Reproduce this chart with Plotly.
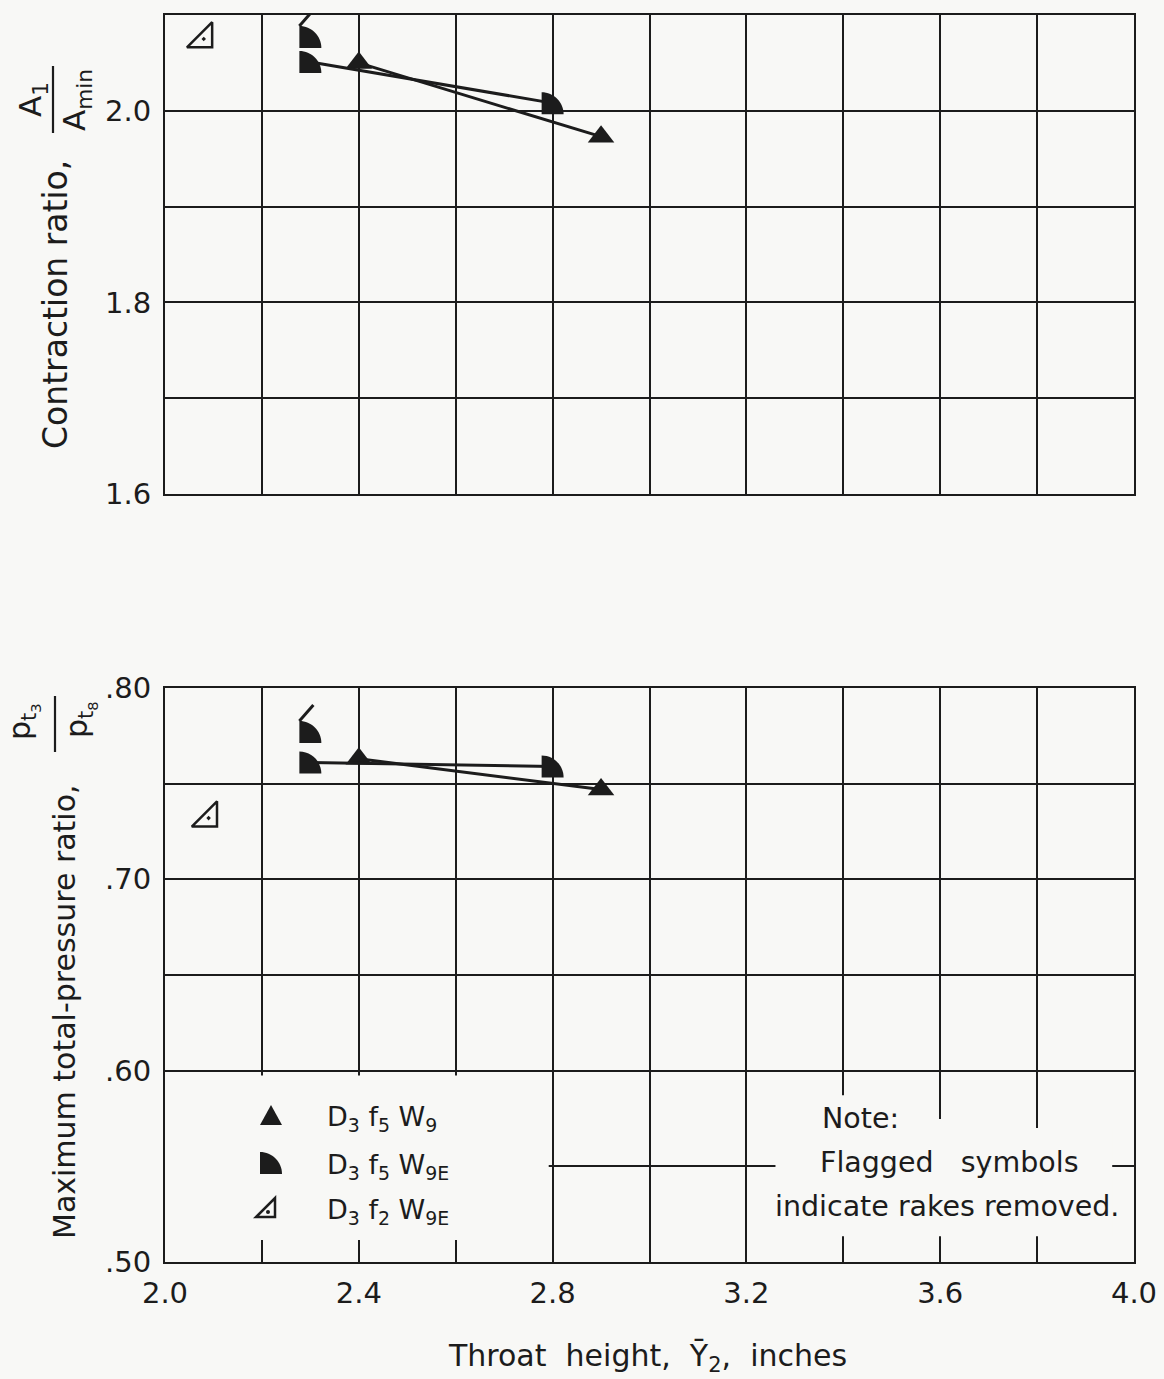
import plotly.graph_objects as go

# ---------------- data ----------------
x_ticks = [2.0, 2.2, 2.4, 2.6, 2.8, 3.0, 3.2, 3.4, 3.6, 3.8, 4.0]
x_ticktext = ["2.0", "", "2.4", "", "2.8", "", "3.2", "", "3.6", "", "4.0"]
top_yticks = [1.6, 1.7, 1.8, 1.9, 2.0, 2.1]
top_yticktext = ["1.6", "", "1.8", "", "2.0", ""]
bot_yticks = [0.50, 0.55, 0.60, 0.65, 0.70, 0.75, 0.80]
bot_yticktext = [".50", "", ".60", "", ".70", "", ".80"]

# D3 f5 W9 (solid triangles)
top_w9_x = [2.4, 2.9]
top_w9_y = [2.050, 1.973]
bot_w9_x = [2.4, 2.9]
bot_w9_y = [0.763, 0.747]

# D3 f5 W9E (solid quarter circles); flagged = rakes removed
top_w9e_x = [2.3, 2.3, 2.8]
top_w9e_y = [2.077, 2.051, 2.008]
bot_w9e_x = [2.3, 2.3, 2.8]
bot_w9e_y = [0.777, 0.761, 0.759]
w9e_flag = [True, False, False]

# D3 f2 W9E (open right triangles)
top_f2_x = [2.08]
top_f2_y = [2.075]
bot_f2_x = [2.09]
bot_f2_y = [0.732]

legend_labels = ["D<sub>3</sub> f<sub>5</sub> W<sub>9</sub>",
                 "D<sub>3</sub> f<sub>5</sub> W<sub>9E</sub>",
                 "D<sub>3</sub> f<sub>2</sub> W<sub>9E</sub>"]
note_lines = ["Note:", "Flagged   symbols", "indicate rakes removed."]

# ---------------- styling ----------------
W, H = 1164, 1379
ML, MR, MT, MB = 165, 30, 15, 117
PW, PH = W - ML - MR, H - MT - MB
BG = "#f8f8f6"
INK = "#1c1c1c"
FONT = "DejaVu Sans"


def px_x(px):
    return (px - ML) / PW


def px_y(py):
    return (H - MB - py) / PH


fig = go.Figure()

LW = 3
TRI = dict(symbol="triangle-up", size=23, color=INK)
OPEN = dict(symbol="triangle-se-open-dot", size=28, color=INK, line=dict(color=INK, width=2.5))

# --- traces, top panel ---
fig.add_trace(go.Scatter(x=top_w9_x, y=top_w9_y, mode="lines+markers", xaxis="x", yaxis="y",
                         line=dict(color=INK, width=LW), marker=TRI))
fig.add_trace(go.Scatter(x=[x for x, f in zip(top_w9e_x, w9e_flag) if not f],
                         y=[y for y, f in zip(top_w9e_y, w9e_flag) if not f],
                         mode="lines", xaxis="x", yaxis="y",
                         line=dict(color=INK, width=LW)))
fig.add_trace(go.Scatter(x=top_f2_x, y=top_f2_y, mode="markers", xaxis="x", yaxis="y",
                         marker=OPEN))
# --- traces, bottom panel ---
fig.add_trace(go.Scatter(x=bot_w9_x, y=bot_w9_y, mode="lines+markers", xaxis="x2", yaxis="y2",
                         line=dict(color=INK, width=LW), marker=TRI))
fig.add_trace(go.Scatter(x=[x for x, f in zip(bot_w9e_x, w9e_flag) if not f],
                         y=[y for y, f in zip(bot_w9e_y, w9e_flag) if not f],
                         mode="lines", xaxis="x2", yaxis="y2",
                         line=dict(color=INK, width=LW)))
fig.add_trace(go.Scatter(x=bot_f2_x, y=bot_f2_y, mode="markers", xaxis="x2", yaxis="y2",
                         marker=OPEN))

shapes = []
R = 22
K = 0.5523 * R
HALF = R / 2
QPATH = (f"M {-HALF},{-HALF} L {-HALF},{HALF} "
         f"C {-HALF + K},{HALF} {HALF},{-HALF + K} {HALF},{-HALF} Z")
FLAG = f"M {-HALF},{HALF} L {-HALF + 14},{HALF + 16}"


def quarter(xref, yref, xa, ya, flag=False):
    out = [dict(type="path", xref=xref, yref=yref, xsizemode="pixel", ysizemode="pixel",
                xanchor=xa, yanchor=ya, path=QPATH, fillcolor=INK, line=dict(width=0),
                layer="above")]
    if flag:
        out.append(dict(type="path", xref=xref, yref=yref, xsizemode="pixel", ysizemode="pixel",
                        xanchor=xa, yanchor=ya, path=FLAG, line=dict(color=INK, width=3),
                        layer="above"))
    return out


for xv, yv, f in zip(top_w9e_x, top_w9e_y, w9e_flag):
    shapes += quarter("x", "y", xv, yv, f)
for xv, yv, f in zip(bot_w9e_x, bot_w9e_y, w9e_flag):
    shapes += quarter("x2", "y2", xv, yv, f)


# blank areas in bottom grid (legend and note)
def blank(x0, x1, y0, y1):
    return dict(type="rect", xref="x2", yref="y2", x0=x0, x1=x1, y0=y0, y1=y1,
                fillcolor=BG, line=dict(width=0), layer="between")


shapes += [blank(2.0, 2.792, 0.5115, 0.5975),
           blank(3.26, 3.5, 0.5134, 0.5871),
           blank(3.5, 3.7, 0.5134, 0.5747),
           blank(3.7, 3.955, 0.5134, 0.5701)]

# legend keys
leg_x = px_x(271)
leg_rows = [1115, 1163, 1208]
shapes.append(dict(type="path", xref="paper", yref="paper", xsizemode="pixel", ysizemode="pixel",
                   xanchor=leg_x, yanchor=px_y(leg_rows[0]),
                   path="M -11,-10 L 11,-10 L 0,10 Z", fillcolor=INK, line=dict(width=0)))
shapes += quarter("paper", "paper", leg_x, px_y(leg_rows[1]), False)
shapes.append(dict(type="path", xref="paper", yref="paper", xsizemode="pixel", ysizemode="pixel",
                   xanchor=px_x(266), yanchor=px_y(leg_rows[2]),
                   path="M -10,-9 L 9,-9 L 9,10 Z", line=dict(color=INK, width=2.5)))
shapes.append(dict(type="circle", xref="paper", yref="paper", xsizemode="pixel", ysizemode="pixel",
                   xanchor=px_x(266), yanchor=px_y(leg_rows[2]),
                   x0=0, x1=4, y0=-6, y1=-2, fillcolor=INK, line=dict(width=0)))

# fraction bars on y titles
shapes.append(dict(type="line", xref="paper", yref="paper", x0=px_x(53), x1=px_x(53),
                   y0=px_y(66), y1=px_y(133), line=dict(color=INK, width=2.2)))
shapes.append(dict(type="line", xref="paper", yref="paper", x0=px_x(55), x1=px_x(55),
                   y0=px_y(696), y1=px_y(752), line=dict(color=INK, width=2.2)))

annotations = []


def ann(text, px, py, size, angle=0, xanchor="center"):
    annotations.append(dict(text=text, x=px_x(px), y=px_y(py), xref="paper", yref="paper",
                            showarrow=False, textangle=angle, xanchor=xanchor, yanchor="middle",
                            font=dict(family=FONT, size=size, color=INK)))


ann("Contraction ratio,", 56, 305, 33, -90)
ann("A<sub>1</sub>", 32, 100, 31, -90)
ann("A<sub>min</sub>", 76, 100, 31, -90)
ann("Maximum total-pressure ratio,", 64, 1012, 30, -90)
ann("p<sub>t<sub>3</sub></sub>", 23, 722, 30, -90)
ann("p<sub>t<sub>8</sub></sub>", 80, 720, 30, -90)
ann("Throat  height,  Ȳ<sub>2</sub>,  inches", 647, 1357, 30)

for lab, ry in zip(legend_labels, leg_rows):
    ann(lab, 325, ry + 3, 27, xanchor="left")
for line, (lx, ly) in zip(note_lines, [(820, 1118), (818, 1162), (773, 1206)]):
    ann(line, lx, ly, 28.5, xanchor="left")

axis_common = dict(showgrid=True, gridcolor=INK, gridwidth=1.8, zeroline=False,
                   showline=True, linecolor=INK, linewidth=2.2, mirror=True, ticks="",
                   automargin=False,
                   tickfont=dict(family=FONT, size=29, color=INK))

fig.update_layout(
    width=W, height=H, autosize=False,
    margin=dict(l=ML, r=MR, t=MT, b=MB, pad=0, autoexpand=False),
    paper_bgcolor=BG, plot_bgcolor=BG, showlegend=False,
    xaxis=dict(domain=[0, 1], range=[2.0, 4.0], anchor="y", tickvals=x_ticks,
               ticktext=x_ticktext, showticklabels=False, **axis_common),
    yaxis=dict(domain=[px_y(494), 1], range=[1.6, 2.1], anchor="x", tickvals=top_yticks,
               ticktext=top_yticktext, ticklabelstandoff=6, **axis_common),
    xaxis2=dict(domain=[0, 1], range=[2.0, 4.0], anchor="y2", tickvals=x_ticks,
                ticktext=x_ticktext, ticklabelstandoff=4, **axis_common),
    yaxis2=dict(domain=[0, px_y(688)], range=[0.5, 0.8], anchor="x2", tickvals=bot_yticks,
                ticktext=bot_yticktext, ticklabelstandoff=6, **axis_common),
    shapes=shapes, annotations=annotations,
)

fig.write_html("out.html")
